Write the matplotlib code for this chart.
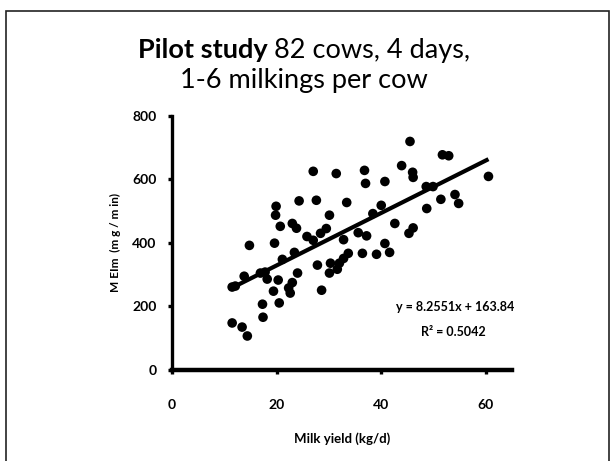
import matplotlib
matplotlib.use("Agg")
import matplotlib.pyplot as plt
from matplotlib.patches import Rectangle

# milk yield (kg/d) and MEIm (mg/min)
milk_yield = [11.5, 13.4, 14.4, 11.5, 12.1, 13.8, 14.8, 16.9, 17.8, 18.2,
              17.3, 17.4, 19.4, 20.5, 20.3, 19.6, 19.9, 19.8, 20.7, 23.0,
              23.8, 24.3, 21.1, 23.4, 24.0, 23.0, 22.6, 22.3, 25.8, 27.0,
              28.4, 29.5, 27.0, 27.6, 30.1, 31.4, 33.4, 32.8, 35.6, 37.2,
              36.8, 37.0, 40.7, 43.9, 45.5, 40.0, 38.4, 42.6, 46.0, 46.1,
              51.7, 52.9, 60.5, 48.6, 49.9, 51.4, 54.1, 54.8, 48.7, 46.1,
              45.3, 40.7, 33.7, 32.8, 32.0, 36.4, 39.1, 41.6, 27.8, 30.3,
              30.1, 31.6, 28.6]
meim = [148, 135, 107, 261, 264, 295, 392, 305, 308, 286,
        207, 166, 248, 211, 283, 399, 515, 487, 452, 461,
        446, 532, 348, 370, 305, 275, 242, 258, 420, 408,
        430, 445, 625, 534, 487, 618, 527, 410, 432, 422,
        628, 587, 593, 643, 719, 518, 492, 461, 622, 606,
        677, 674, 609, 577, 577, 537, 552, 524, 508, 447,
        430, 398, 367, 351, 336, 367, 364, 370, 330, 336,
        305, 317, 251]

slope = 8.2551
intercept = 163.84
r2 = 0.5042

x_ticks = [0, 20, 40, 60]
y_ticks = [0, 200, 400, 600, 800]

W, H = 613, 461
fig = plt.figure(figsize=(W / 100, H / 100), dpi=100)
ax = fig.add_axes([172 / W, 1 - 370 / H, 340 / W, 254.3 / H])

ax.scatter(milk_yield, meim, s=48, color='black', edgecolors='none', zorder=3)

# trend line across the data range
x0, x1 = min(milk_yield), max(milk_yield)
ax.plot([x0, x1], [slope * x0 + intercept, slope * x1 + intercept],
        color='black', lw=3, solid_capstyle='butt', zorder=4)

ax.set_xlim(0, 65)
ax.set_ylim(0, 800)
ax.set_xticks(x_ticks)
ax.set_yticks(y_ticks)
for lab in ax.get_xticklabels() + ax.get_yticklabels():
    lab.set_fontfamily('Lato')
    lab.set_fontweight('bold')
    lab.set_fontsize(10)
ax.tick_params(axis='x', direction='out', length=3, width=2.4, pad=18)
ax.tick_params(axis='y', direction='out', length=3, width=2.4, pad=8)

ax.spines['top'].set_visible(False)
ax.spines['right'].set_visible(False)
ax.spines['left'].set_linewidth(2.4)
ax.spines['bottom'].set_linewidth(3.2)

ax.set_xlabel('Milk yield (kg/d)', fontfamily='Lato', fontweight='bold', fontsize=9.5)
ax.xaxis.set_label_coords(0.5, -(432 - 370) / 254.3)
ax.set_ylabel('M EIm  (m g / m in)', fontfamily='Lato', fontweight='bold', fontsize=8.5)
ax.yaxis.set_label_coords(-(172 - 121) / 340, 0.5)

fig.text(455 / W, 1 - 307 / H, 'y = %.4fx + %.2f' % (slope, intercept), ha='center',
         va='center', fontfamily='Lato', fontweight='bold', fontsize=9)
fig.text(453 / W, 1 - 332 / H, 'R² = %.4f' % r2, ha='center', va='center',
         fontfamily='Lato', fontweight='bold', fontsize=9)

# title: bold part + regular part on one line
fig.canvas.draw()
r = fig.canvas.get_renderer()
t1 = fig.text(0, 1 - 58 / H, 'Pilot study', fontfamily='Lato', fontweight='bold',
              fontsize=19.5, va='baseline')
t2 = fig.text(0, 1 - 58 / H, ' 82 cows, 4 days,', fontfamily='Lato', fontsize=19.5,
              va='baseline')
w1 = t1.get_window_extent(r).width
w2 = t2.get_window_extent(r).width
start = 304 - (w1 + w2) / 2
t1.set_x(start / W)
t2.set_x((start + w1) / W)
fig.text(304 / W, 1 - 88 / H, '1-6 milkings per cow', fontfamily='Lato', fontsize=19.5,
         ha='center', va='baseline')

fig.patches.append(Rectangle((6 / W, -0.05), (609 - 6) / W, 1.05 - 11 / H,
                             transform=fig.transFigure, fill=False,
                             edgecolor='#222222', lw=1.2))

fig.savefig('out.png', dpi=100)
